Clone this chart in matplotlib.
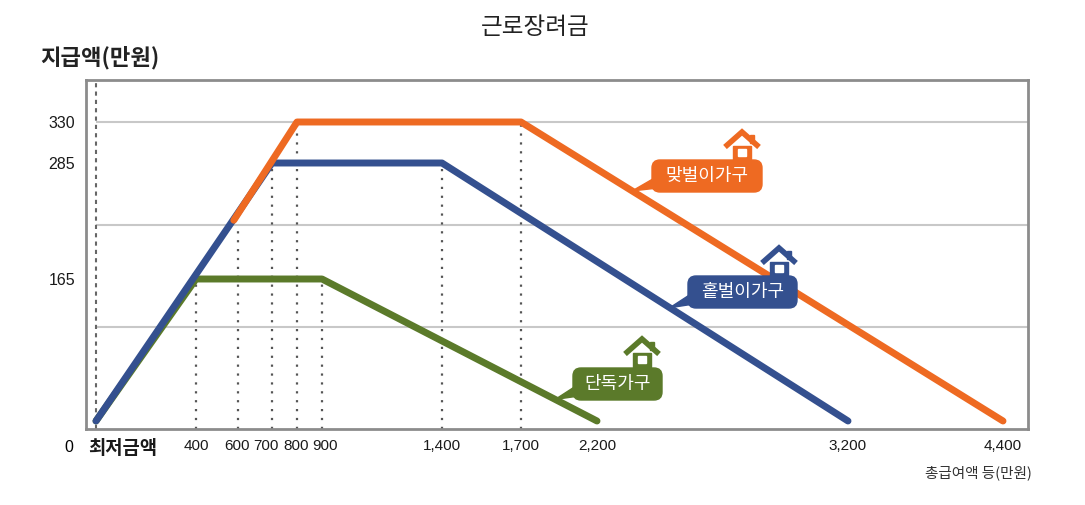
import numpy as np
import matplotlib
matplotlib.use('Agg')
import matplotlib.pyplot as plt
from matplotlib import font_manager
from matplotlib.patches import FancyBboxPatch, Polygon, Rectangle
from matplotlib.lines import Line2D
from matplotlib.transforms import Affine2D, ScaledTranslation

# values (만원)
x_ticks = [0, 400, 600, 700, 800, 900, 1400, 1700, 2200, 3200, 4400]
x_tick_labels = ['', '400', '600', '700', '800', '900', '1,400', '1,700', '2,200', '3,200', '4,400']
y_ticks = [165, 285, 330]
y_grid = [110, 220, 330]

# 맞벌이가구 only shows from where it leaves the 홑벌이 line
dual_x = [580, 800, 1700, 4400]
dual_y = [225, 330, 330, 0]
one_x = [0, 700, 1400, 3200]                # 홑벌이가구
one_y = [0, 285, 285, 0]
single_x = [0, 400, 900, 2200]              # 단독가구
single_y = [0, 165, 165, 0]

guide_x = [400, 600, 700, 800, 900, 1400, 1700]
guide_top = [165, 220, 285, 330, 165, 285, 330]

ORANGE = '#ee6a22'
BLUE = '#34508f'
GREEN = '#5b7a2a'

KR = ['Noto Sans CJK KR', 'DejaVu Sans']
names = {f.name for f in font_manager.fontManager.ttflist}
NUM = 'Liberation Sans Narrow' if 'Liberation Sans Narrow' in names else 'Liberation Sans'
plt.rcParams['font.family'] = KR

W, H = 1085, 505
fig = plt.figure(figsize=(W / 100, H / 100), dpi=100)
ax = fig.add_axes([86 / W, 1 - 429 / H, (1028 - 86) / W, (429 - 80) / H])
T = Affine2D().scale(1, -1).translate(0, H)   # picture pixels, y down


def piecewise(v, xp, fp):
    v = np.asarray(v, dtype=float)
    s0 = (fp[1] - fp[0]) / (xp[1] - xp[0])
    s1 = (fp[-1] - fp[-2]) / (xp[-1] - xp[-2])
    out = np.interp(v, xp, fp)
    out = np.where(v < xp[0], fp[0] + (v - xp[0]) * s0, out)
    out = np.where(v > xp[-1], fp[-1] + (v - xp[-1]) * s1, out)
    return out


# the chart's axes are schematic, so both scales are piecewise linear
x_px = [96, 196, 238, 272, 297, 322, 442, 521, 597, 848, 1003]
y_ref = [0, 110, 165, 220, 285, 330]
y_up = [-421, -327, -279, -225, -163, -122]
ax.set_xscale('function', functions=(lambda v: piecewise(v, x_ticks, x_px),
                                     lambda p: piecewise(p, x_px, x_ticks)))
ax.set_yscale('function', functions=(lambda v: piecewise(v, y_ref, y_up),
                                     lambda p: piecewise(p, y_up, y_ref)))
x0, x1 = float(piecewise(86, x_px, x_ticks)), float(piecewise(1028, x_px, x_ticks))
y0, y1 = float(piecewise(-429, y_up, y_ref)), float(piecewise(-80, y_up, y_ref))
ax.set_xlim(x0, x1)
ax.set_ylim(y0, y1)

ax.hlines(y_grid, 0, x1, color='#c8c8c8', lw=1.5, zorder=1)
ax.plot([0, 0], [y0, y1], color='#666666', lw=1.5, ls=(0, (2, 2)), zorder=2)
for gx, gt in zip(guide_x, guide_top):
    ax.plot([gx, gx], [y0, gt], color='#555555', lw=1.6, ls=(0, (1, 3)), zorder=2)

style = dict(lw=5, solid_capstyle='round', solid_joinstyle='round')
ax.plot(single_x, single_y, color=GREEN, zorder=4, **style)
ax.plot(one_x, one_y, color=BLUE, zorder=5, **style)
ax.plot(dual_x, dual_y, color=ORANGE, zorder=6, **style)

for s in ax.spines.values():
    s.set_color('#8c8c8c')
    s.set_linewidth(2)
ax.set_xticks(x_ticks[1:])
ax.set_xticklabels(x_tick_labels[1:], family=NUM, fontsize=11, color='#1a1a1a')
ax.set_yticks(y_ticks)
ax.set_yticklabels([str(v) for v in y_ticks], family=NUM, fontsize=11.5, color='#1a1a1a')
ax.tick_params(axis='x', length=0, pad=7)
ax.tick_params(axis='y', length=0, pad=8)
ax.minorticks_off()
# crowded labels sit slightly off their guides in the original
for lbl, dx in zip(ax.get_xticklabels(), [0, -1, -6, -1, 3, 0, 0, 0, 0, 0]):
    lbl.set_transform(lbl.get_transform() + ScaledTranslation(dx / 100, 0, fig.dpi_scale_trans))

fig.text(535, 28, '근로장려금', transform=T, ha='center', va='center', fontsize=17,
         weight='medium', color='#222222')
fig.text(40, 58, '지급액(만원)', transform=T, ha='left', va='center', fontsize=16,
         weight='bold', color='#222222')
fig.text(69, 448, '0', transform=T, ha='center', va='center', family=NUM, fontsize=11.5)
fig.text(88, 448, '최저금액', transform=T, ha='left', va='center', fontsize=13.5, weight='bold',
         color='#1a1a1a')
fig.text(1032, 473, '총급여액 등(만원)', transform=T, ha='right', va='center', fontsize=10.5,
         color='#333333')


def line_point(xs, ys, xv):
    pts = ax.transData.transform(np.column_stack([xs, ys]))
    dx = ax.transData.transform((xv, 0))[0]
    dy = np.interp(dx, pts[:, 0], pts[:, 1])
    return dx, H - dy


def draw_house(cx, top, color):
    ax.add_artist(Line2D([cx - 17, cx, cx + 17], [top + 15, top, top + 15], transform=T,
                         color=color, lw=4.0, solid_joinstyle='miter', solid_capstyle='butt',
                         clip_on=False, zorder=10))
    ax.add_patch(Rectangle((cx + 8, top + 3), 4, 8, transform=T, color=color, clip_on=False, zorder=10))
    ax.add_patch(Rectangle((cx - 9, top + 14), 18, 15, transform=T, color=color, clip_on=False, zorder=10))
    ax.add_patch(Rectangle((cx - 4, top + 17), 8, 7, transform=T, color='white', clip_on=False, zorder=11))


callouts = [
    ('맞벌이가구', ORANGE, (652, 160, 110, 32), (742, 132), 2340, dual_x, dual_y),
    ('홑벌이가구', BLUE, (688, 276, 109, 32), (779, 248), 2490, one_x, one_y),
    ('단독가구', GREEN, (573, 368, 89, 32), (642, 339), 1925, single_x, single_y),
]
for label, color, (bx, by, bw, bh), (hx, hy), tip_x, xs, ys in callouts:
    tx, ty = line_point(xs, ys, tip_x)
    ax.add_patch(Polygon([(tx, ty), (bx + 6, by + 16), (bx + 6, by + 28)], closed=True,
                         transform=T, color=color, clip_on=False, zorder=3))
    ax.add_patch(FancyBboxPatch((bx, by), bw, bh, boxstyle='round,pad=0,rounding_size=8',
                                transform=T, color=color, clip_on=False, zorder=10))
    draw_house(hx, hy, color)
    ax.text(bx + bw / 2, by + bh / 2, label, transform=T, ha='center', va='center',
            color='white', fontsize=13, zorder=12)

fig.savefig('out.png', dpi=100)
